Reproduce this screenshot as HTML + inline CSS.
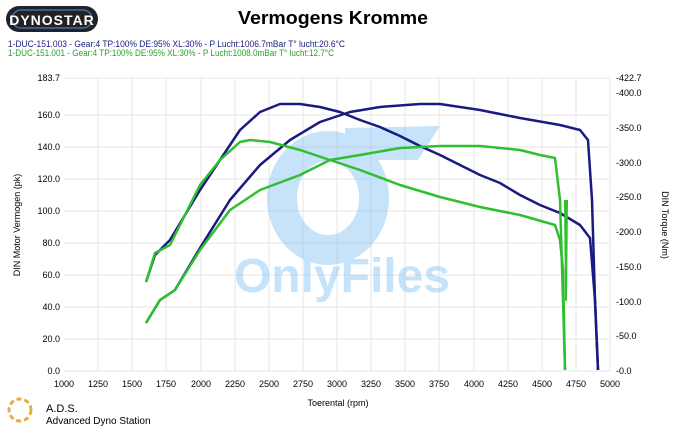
<!DOCTYPE html>
<html><head><style>
body{margin:0;background:#fff;width:685px;height:428px;overflow:hidden;font-family:"Liberation Sans",sans-serif}
</style></head><body>
<svg width="685" height="428" xmlns="http://www.w3.org/2000/svg" font-family="Liberation Sans, sans-serif">
<rect width="685" height="428" fill="#fff"/>
<rect x="6" y="6" width="92" height="26" rx="13" fill="#222"/>
<rect x="12" y="10" width="80" height="18" rx="9" fill="none" stroke="#3a6fb0" stroke-width="1.5"/>
<text x="52" y="25" font-size="14" font-weight="bold" fill="#fff" text-anchor="middle" letter-spacing="1">DYNOSTAR</text>
<text x="238" y="24" font-size="18" font-weight="bold" fill="#000" textLength="190" lengthAdjust="spacingAndGlyphs">Vermogens Kromme</text>
<text x="8" y="47" font-size="9" fill="#1a1a80" textLength="337" lengthAdjust="spacingAndGlyphs">1-DUC-151.003 - Gear:4 TP:100% DE:95% XL:30%   - P Lucht:1006.7mBar T° lucht:20.6°C</text>
<text x="8" y="56" font-size="9" fill="#2aa02a" textLength="326" lengthAdjust="spacingAndGlyphs">1-DUC-151.001 - Gear:4 TP:100% DE:95% XL:30%   - P Lucht:1008.0mBar T° lucht:12.7°C</text>
<g stroke="#e4e4e4" stroke-width="1">
<line x1="64" y1="78" x2="610" y2="78"/>
<line x1="64" y1="115" x2="610" y2="115"/><line x1="64" y1="147" x2="610" y2="147"/><line x1="64" y1="179" x2="610" y2="179"/><line x1="64" y1="211" x2="610" y2="211"/><line x1="64" y1="243" x2="610" y2="243"/><line x1="64" y1="275" x2="610" y2="275"/><line x1="64" y1="307" x2="610" y2="307"/><line x1="64" y1="339" x2="610" y2="339"/><line x1="64" y1="371" x2="610" y2="371"/>
<line x1="98" y1="78" x2="98" y2="371"/><line x1="132" y1="78" x2="132" y2="371"/><line x1="166" y1="78" x2="166" y2="371"/><line x1="201" y1="78" x2="201" y2="371"/><line x1="235" y1="78" x2="235" y2="371"/><line x1="269" y1="78" x2="269" y2="371"/><line x1="303" y1="78" x2="303" y2="371"/><line x1="337" y1="78" x2="337" y2="371"/><line x1="371" y1="78" x2="371" y2="371"/><line x1="405" y1="78" x2="405" y2="371"/><line x1="439" y1="78" x2="439" y2="371"/><line x1="474" y1="78" x2="474" y2="371"/><line x1="508" y1="78" x2="508" y2="371"/><line x1="542" y1="78" x2="542" y2="371"/><line x1="576" y1="78" x2="576" y2="371"/><line x1="610" y1="78" x2="610" y2="371"/>
</g>
<g opacity="0.5">
<ellipse cx="328" cy="198" rx="46" ry="52" fill="none" stroke="#8fc8f5" stroke-width="30"/>
<path d="M345 128 L440 126 L418 160 L345 160 Z" fill="#8fc8f5"/>
<text x="342" y="292" font-size="48" font-weight="bold" fill="#8fc8f5" text-anchor="middle">OnlyFiles</text>
</g>
<g font-size="9" fill="#000">
<g text-anchor="end">
<text x="60" y="81">183.7</text><text x="60" y="118">160.0</text><text x="60" y="150">140.0</text><text x="60" y="182">120.0</text><text x="60" y="214">100.0</text><text x="60" y="246">80.0</text><text x="60" y="278">60.0</text><text x="60" y="310">40.0</text><text x="60" y="342">20.0</text><text x="60" y="374">0.0</text>
</g>
<g text-anchor="start">
<text x="616" y="81">-422.7</text><text x="616" y="96">-400.0</text><text x="616" y="131">-350.0</text><text x="616" y="166">-300.0</text><text x="616" y="200">-250.0</text><text x="616" y="235">-200.0</text><text x="616" y="270">-150.0</text><text x="616" y="305">-100.0</text><text x="616" y="339">-50.0</text><text x="616" y="374">-0.0</text>
</g>
<g text-anchor="middle">
<text x="64" y="387">1000</text><text x="98" y="387">1250</text><text x="132" y="387">1500</text><text x="166" y="387">1750</text><text x="201" y="387">2000</text><text x="235" y="387">2250</text><text x="269" y="387">2500</text><text x="303" y="387">2750</text><text x="337" y="387">3000</text><text x="371" y="387">3250</text><text x="405" y="387">3500</text><text x="439" y="387">3750</text><text x="474" y="387">4000</text><text x="508" y="387">4250</text><text x="542" y="387">4500</text><text x="576" y="387">4750</text><text x="610" y="387">5000</text>
<text x="338" y="406">Toerental (rpm)</text>
</g>
<text transform="translate(20,225) rotate(-90)" text-anchor="middle">DIN Motor Vermogen (pk)</text>
<text transform="translate(662,225) rotate(90)" text-anchor="middle">DIN Torque (Nm)</text>
</g>
<circle cx="20" cy="410" r="11" fill="none" stroke="#e0b040" stroke-width="3" stroke-dasharray="5 3"/>
<text x="46" y="412" font-size="11" fill="#000">A.D.S.</text>
<text x="46" y="424" font-size="10" fill="#000">Advanced Dyno Station</text>
<g fill="none" stroke-width="2.5" stroke-linejoin="round">
<polyline stroke="#1a1a80" points="146,282 155,255 170,240 200,190 220,160 240,130 260,112 280,104 300,104 320,107 340,112 360,120 380,127 400,136 420,146 440,155 460,165 480,175 500,183 520,195 540,205 560,213 580,225 590,238 595,300 598,370"/>
<polyline stroke="#1a1a80" points="146,323 160,300 175,290 200,248 230,200 260,165 290,140 320,122 350,112 380,107 420,104 440,104 480,110 520,118 560,125 580,130 588,140 592,200 595,300 598,370"/>
<polyline stroke="#2fbf2f" points="146,282 155,253 170,245 200,185 220,160 240,142 250,140 270,142 300,150 330,160 360,170 400,185 440,197 480,207 520,215 555,225 560,240 563,270 565,370"/>
<polyline stroke="#2fbf2f" points="146,323 160,300 175,290 200,250 230,210 260,190 300,175 330,160 360,155 400,148 440,146 480,146 520,150 540,155 555,158 560,200 563,300 565,370"/>
<polyline stroke="#2fbf2f" stroke-width="2" points="565,200 566,300 567,200"/>
</g>
</svg>
</body></html>
